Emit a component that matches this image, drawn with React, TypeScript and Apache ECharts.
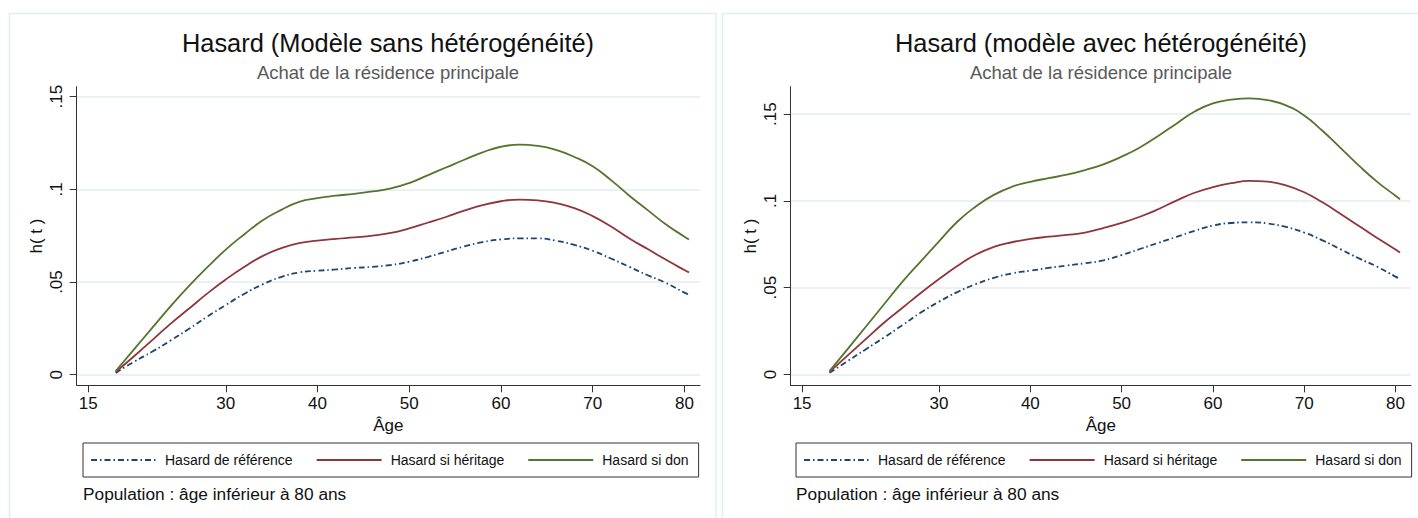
import React, { useEffect, useRef } from "react";
import * as echarts from "echarts";

// Age grid (years) shared by every curve
const ages = [
  18, 20, 22, 24, 26, 28, 30, 32, 34, 36, 38, 40, 42, 44, 46, 48, 50, 52, 54, 56,
  58, 60, 62, 64, 66, 68, 70, 72, 74, 76, 78, 80, 80.5,
];

// Model without heterogeneity
const sansRef = [
  0.001, 0.007, 0.0125, 0.0185, 0.0248, 0.0314, 0.0376, 0.0436, 0.0487, 0.0527,
  0.0552, 0.0561, 0.0568, 0.0576, 0.0582, 0.0592, 0.061, 0.0635, 0.0664, 0.0692,
  0.0716, 0.073, 0.0736, 0.0736, 0.0723, 0.07, 0.0669, 0.0627, 0.0582, 0.0537,
  0.0495, 0.0443, 0.0432,
];
const sansHeritage = [
  0.0015, 0.01, 0.0187, 0.0276, 0.0357, 0.0439, 0.0514, 0.0581, 0.064, 0.0682,
  0.071, 0.0723, 0.0733, 0.0741, 0.075, 0.0765, 0.079, 0.082, 0.0851, 0.0885,
  0.0915, 0.0936, 0.0945, 0.0941, 0.0926, 0.0899, 0.0856, 0.08, 0.0735, 0.0678,
  0.062, 0.0565, 0.0552,
];
const sansDon = [
  0.002, 0.0137, 0.0254, 0.037, 0.0479, 0.058, 0.0675, 0.0757, 0.0832, 0.0888,
  0.0933, 0.0953, 0.0966, 0.0976, 0.0989, 0.1005, 0.1034, 0.1076, 0.1118, 0.116,
  0.12, 0.123, 0.1241, 0.1235, 0.1213, 0.1175, 0.1125, 0.105, 0.0966, 0.0888,
  0.081, 0.0745, 0.0729,
];

// Model with heterogeneity
const avecRef = [
  0.001, 0.0078, 0.0146, 0.0214, 0.0285, 0.0357, 0.042, 0.0475, 0.052, 0.0557,
  0.0583, 0.0598, 0.0614, 0.0628, 0.0641, 0.0658, 0.0688, 0.0723, 0.0758, 0.0793,
  0.0828, 0.0858, 0.0873, 0.0877, 0.087, 0.085, 0.0818, 0.0773, 0.0721, 0.0669,
  0.0621, 0.0564, 0.0551,
];
const avecHeritage = [
  0.0015, 0.011, 0.0205, 0.03, 0.0385, 0.047, 0.055, 0.0625, 0.069, 0.0735,
  0.0762, 0.0781, 0.0794, 0.0804, 0.0818, 0.0844, 0.0874, 0.0909, 0.0952, 0.1002,
  0.1047, 0.1079, 0.1102, 0.1116, 0.1111, 0.109, 0.105, 0.0992, 0.0925, 0.0855,
  0.0787, 0.072, 0.0703,
];
const avecDon = [
  0.002, 0.0148, 0.0277, 0.0406, 0.0535, 0.0652, 0.0767, 0.088, 0.0967, 0.1035,
  0.1082, 0.111, 0.1131, 0.1151, 0.1178, 0.1211, 0.1255, 0.1308, 0.1374, 0.1445,
  0.1515, 0.1562, 0.1583, 0.1591, 0.1581, 0.155, 0.1492, 0.1404, 0.1304, 0.1203,
  0.111, 0.103, 0.101,
];

const xTicks = [15, 30, 40, 50, 60, 70, 80];
const yTicks = [0, 0.05, 0.1, 0.15];
const seriesNames = ["Hasard de référence", "Hasard si héritage", "Hasard si don"];
const panelTitles = [
  "Hasard (Modèle sans hétérogénéité)",
  "Hasard (modèle avec hétérogénéité)",
];
const subtitle = "Achat de la résidence principale";
const note = "Population : âge inférieur à 80 ans";

const FONT = "'Liberation Sans', Arial, sans-serif";
const NAVY = "#1a476f";
const MAROON = "#90353b";
const GREEN = "#55752f";
const AXIS = "#333333";
const GRID = "#e4ecef";

const pairs = (vals: number[]) => ages.map((a, i) => [a, vals[i]]);

const fmtY = (v: number) =>
  v === 0 ? "0" : String(parseFloat(v.toFixed(2))).replace(/^0/, "");

export default function App() {
  const ref = useRef<HTMLDivElement>(null);

  useEffect(() => {
    if (!ref.current) return;
    const chart = echarts.init(ref.current, undefined, { renderer: "svg" });

    const panels = [
      { gx: 76.7, gr: 718, ymin: -0.0057, ymax: 0.1554, data: [sansRef, sansHeritage, sansDon], cx: 388, off: 0 },
      { gx: 790.7, gr: 7, ymin: -0.0062, ymax: 0.1658, data: [avecRef, avecHeritage, avecDon], cx: 1101, off: 713 },
    ];

    const grids = panels.map((p) => ({
      left: p.gx,
      right: p.gr,
      top: 86.7,
      bottom: 132.7,
      containLabel: false,
    }));

    const xAxes = panels.map((p, i) => ({
      type: "value",
      gridIndex: i,
      min: 13.75,
      max: 81.7,
      name: "Âge",
      nameLocation: "middle",
      nameGap: 31,
      nameTextStyle: { fontFamily: FONT, fontSize: 17, color: "#111" },
      axisLine: { show: true, onZero: false, lineStyle: { color: AXIS, width: 1 } },
      axisTick: { show: true, length: 7, customValues: xTicks, lineStyle: { color: AXIS } },
      axisLabel: {
        customValues: xTicks,
        margin: 10,
        fontFamily: FONT,
        fontSize: 17,
        color: "#111",
      },
      splitLine: { show: false },
    }));

    const yAxes = panels.map((p, i) => ({
      type: "value",
      gridIndex: i,
      min: p.ymin,
      max: p.ymax,
      name: "h( t )",
      nameLocation: "middle",
      nameRotate: 90,
      nameGap: 32,
      nameTextStyle: { fontFamily: FONT, fontSize: 17, color: "#111" },
      axisLine: { show: true, onZero: false, lineStyle: { color: AXIS, width: 1 } },
      axisTick: { show: true, length: 7, customValues: yTicks, lineStyle: { color: AXIS } },
      axisLabel: {
        customValues: yTicks,
        rotate: 90,
        margin: 12,
        formatter: fmtY,
        fontFamily: FONT,
        fontSize: 17,
        color: "#111",
      },
      splitLine: { show: true, lineStyle: { color: GRID, width: 1.5 } },
    }));

    const styles = [
      { color: NAVY, type: [6, 3, 1.5, 3] as any },
      { color: MAROON, type: "solid" },
      { color: GREEN, type: "solid" },
    ];

    const series: any[] = [];
    panels.forEach((p, pi) => {
      p.data.forEach((vals, si) => {
        series.push({
          type: "line",
          name: seriesNames[si],
          xAxisIndex: pi,
          yAxisIndex: pi,
          data: pairs(vals),
          symbol: "none",
          smooth: 0.5,
          color: styles[si].color,
          lineStyle: { color: styles[si].color, width: 1.8, type: styles[si].type },
        });
      });
    });

    const legends = panels.map((p) => ({
      left: 83 + p.off,
      top: 443,
      width: 640,
      orient: "horizontal",
      itemWidth: 65,
      itemHeight: 14,
      itemGap: 23,
      padding: [10, 10, 10, 7],
      borderColor: AXIS,
      borderWidth: 1,
      selectedMode: false,
      data: seriesNames,
      itemStyle: { opacity: 0 },
      textStyle: { fontFamily: FONT, fontSize: 14, color: "#111", padding: [0, 0, 0, 4] },
    }));

    const graphic: any[] = [];
    panels.forEach((p, i) => {
      graphic.push({
        type: "rect",
        z: -10,
        silent: true,
        shape: { x: 9.5 + p.off, y: 13.5, width: 706.5, height: 530 },
        style: { fill: "#fff", stroke: "#e6edf0", lineWidth: 1.5 },
      });
      graphic.push({
        type: "text",
        x: p.cx,
        y: 43,
        style: {
          text: panelTitles[i],
          fontFamily: FONT,
          fontSize: 25.4,
          fill: "#111",
          align: "center",
          verticalAlign: "middle",
        },
      });
      graphic.push({
        type: "text",
        x: p.cx,
        y: 72,
        style: {
          text: subtitle,
          fontFamily: FONT,
          fontSize: 18.5,
          fill: "#595959",
          align: "center",
          verticalAlign: "middle",
        },
      });
      graphic.push({
        type: "text",
        x: 83 + p.off,
        y: 494,
        style: {
          text: note,
          fontFamily: FONT,
          fontSize: 17.3,
          fill: "#111",
          align: "left",
          verticalAlign: "middle",
        },
      });
    });

    chart.setOption({
      animation: false,
      backgroundColor: "#ffffff",
      grid: grids,
      xAxis: xAxes,
      yAxis: yAxes,
      legend: legends,
      series,
      graphic,
    });

    return () => chart.dispose();
  }, []);

  return (
    <div
      ref={ref}
      style={{ position: "fixed", left: 0, top: 0, width: 1418, height: 518, background: "#fff" }}
    />
  );
}
